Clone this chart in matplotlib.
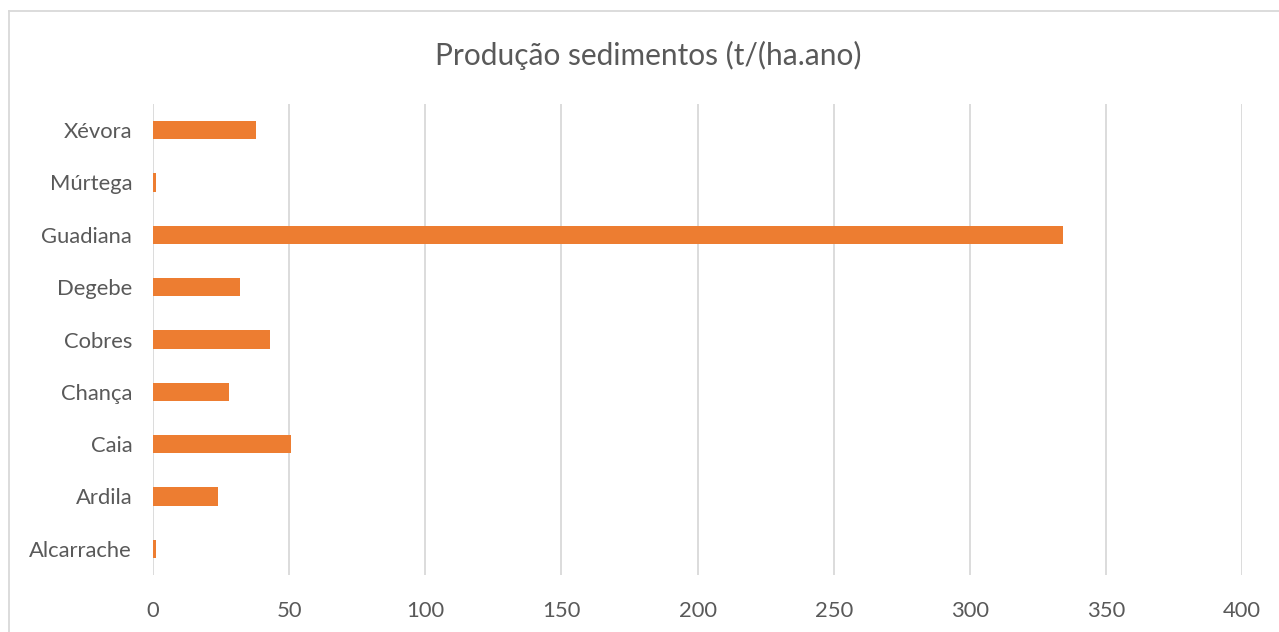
import matplotlib.pyplot as plt
from matplotlib.lines import Line2D

categories = ["Alcarrache", "Ardila", "Caia", "Chança", "Cobres", "Degebe", "Guadiana", "Múrtega", "Xévora"]
values = [1.0, 23.8, 50.6, 27.8, 42.9, 32.0, 334.3, 1.0, 38.0]
xticks = [0, 50, 100, 150, 200, 250, 300, 350, 400]

plt.rcParams['font.family'] = ['Lato', 'DejaVu Sans']
text_color = "#595959"

fig = plt.figure(figsize=(12.79, 6.32), dpi=100)
ax = fig.add_axes([153 / 1279, 1 - 575 / 632, (1242 - 153) / 1279, (575 - 104) / 632])

# Bars
ax.barh(range(len(categories)), values, height=0.35, color="#ED7D31", zorder=3)

ax.set_xlim(0, 400)
ax.set_ylim(-0.5, len(categories) - 0.5)
ax.set_xticks(xticks)
ax.set_xticklabels([str(t) for t in xticks])
ax.set_yticks(range(len(categories)))
ax.set_yticklabels(categories)

ax.grid(axis="x", color="#D9D9D9", linewidth=1.3, zorder=0)
for s in ax.spines.values():
    s.set_visible(False)
ax.tick_params(length=0, labelsize=15.8, colors=text_color)
ax.tick_params(axis="y", pad=15)
ax.tick_params(axis="x", pad=19)

fig.text(0.507, 1 - 55 / 632, "Produção sedimentos (t/(ha.ano)", ha="center", va="center",
         fontsize=21.5, color=text_color)

# Chart area frame
fig.add_artist(Line2D([9 / 1279, 9 / 1279], [0, 1 - 11 / 632], color="#D9D9D9", linewidth=1.3))
fig.add_artist(Line2D([9 / 1279, 1], [1 - 11 / 632, 1 - 11 / 632], color="#D9D9D9", linewidth=1.3))

fig.savefig("out.png", dpi=100)
